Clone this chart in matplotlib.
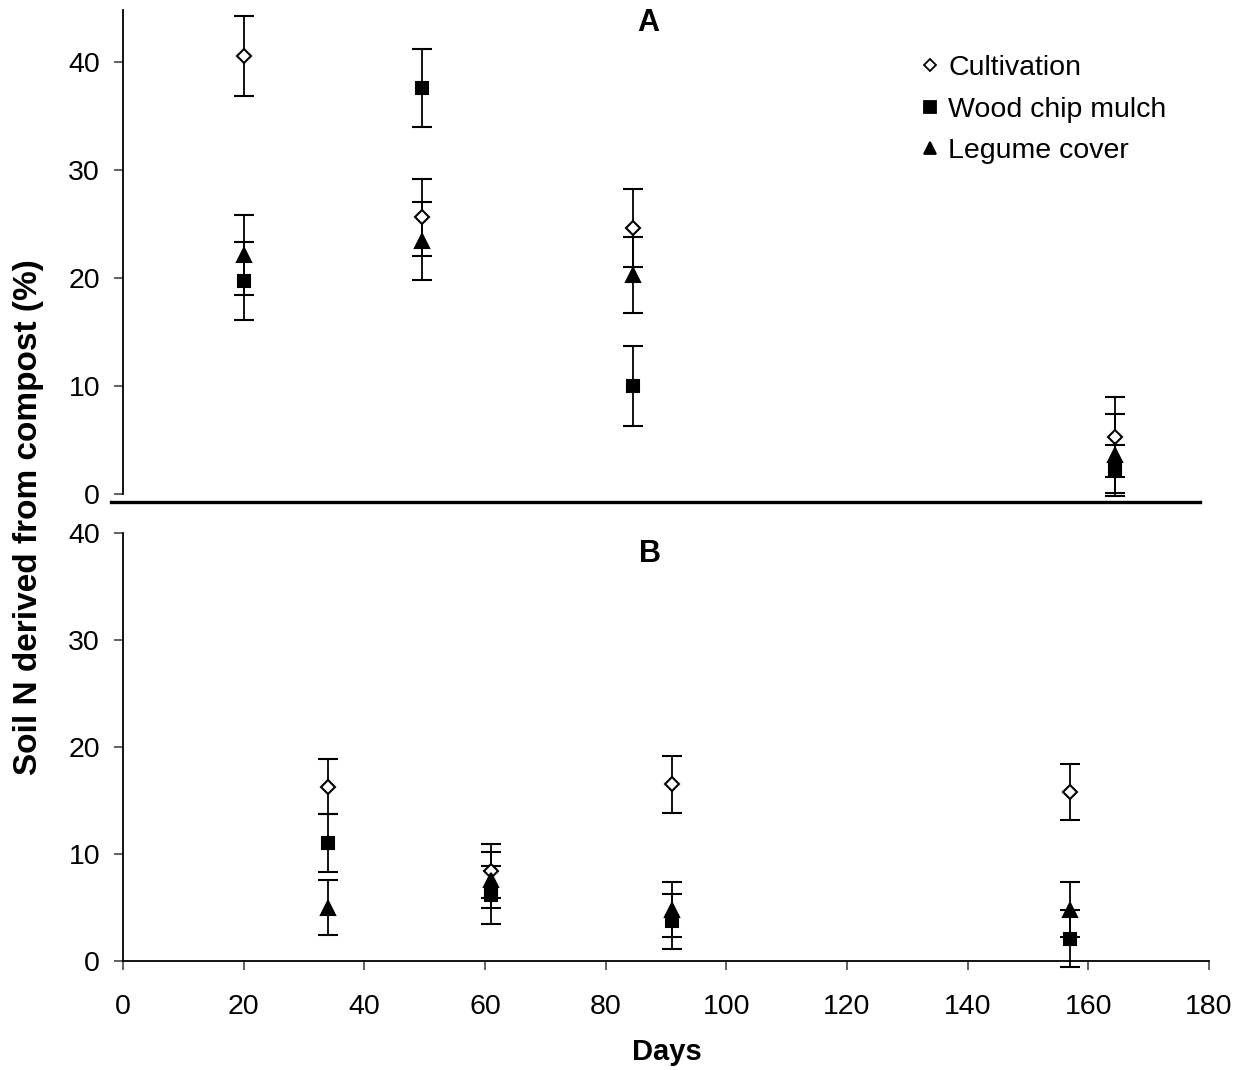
import matplotlib
matplotlib.use("Agg")
import matplotlib.pyplot as plt
from matplotlib.lines import Line2D

plt.rcParams['font.family'] = ['Liberation Sans', 'DejaVu Sans']

series = ["Cultivation", "Wood chip mulch", "Legume cover"]
markers = ["D", "s", "^"]
faces = ["white", "black", "black"]

# Panel A
days_a = [20, 49.5, 84.5, 164.5]
a_cult = [40.5, 25.6, 24.6, 5.3]
a_cult_err = [3.7, 3.6, 3.6, 3.7]
a_wood = [19.7, 37.6, 10.0, 2.3]
a_wood_err = [3.6, 3.6, 3.7, 2.2]
a_leg = [22.1, 23.4, 20.3, 3.6]
a_leg_err = [3.7, 3.6, 3.5, 3.8]

# Panel B
days_b = [34, 61, 91, 157]
b_cult = [16.3, 8.4, 16.5, 15.8]
b_cult_err = [2.6, 2.5, 2.7, 2.6]
b_wood = [11.0, 6.2, 3.7, 2.1]
b_wood_err = [2.7, 2.7, 2.6, 2.7]
b_leg = [5.0, 7.6, 4.8, 4.8]
b_leg_err = [2.6, 2.6, 2.6, 2.6]

W, H = 1244, 1070
fig = plt.figure(figsize=(W / 100, H / 100), dpi=100)

left = 123 / W
width = (1209 - 123) / W
ax_a = fig.add_axes([left, 1 - 494 / H, width, (494 - 10) / H])
ax_b = fig.add_axes([left, 1 - 961 / H, width, (961 - 533) / H])

def draw(ax, days, vals):
    for (y, e), m, fc in zip(vals, markers, faces):
        ms = 9 if m == "s" else (10 if m == "^" else 7.5)
        cont = ax.errorbar(days, y, yerr=e, fmt=m, mfc=fc, mec="black", mew=1.5,
                           ms=ms, ecolor="black", elinewidth=1.3, capsize=7,
                           capthick=1.3, color="black", zorder=3)
        for art in cont.get_children():
            art.set_clip_on(False)

draw(ax_a, days_a, [(a_cult, a_cult_err), (a_wood, a_wood_err), (a_leg, a_leg_err)])
draw(ax_b, days_b, [(b_cult, b_cult_err), (b_wood, b_wood_err), (b_leg, b_leg_err)])

for ax in (ax_a, ax_b):
    ax.set_xlim(0, 180)
    for s in ("top", "right"):
        ax.spines[s].set_visible(False)
    ax.spines["left"].set_linewidth(1.3)
    ax.tick_params(axis="both", direction="out", length=6.5, width=1.3,
                   colors="#555555", labelcolor="black", labelsize=20.5)
    ax.tick_params(axis="y", pad=10)
    ax.tick_params(axis="x", pad=17)

ax_a.set_ylim(0, 44.8)
ax_a.set_yticks([0, 10, 20, 30, 40])
ax_a.spines["bottom"].set_visible(False)
ax_a.set_xticks([])
ax_a.plot([-2, 178.5], [-0.7, -0.7], color="black", lw=2.4, clip_on=False, zorder=2)

ax_b.set_ylim(0, 40)
ax_b.set_yticks([0, 10, 20, 30, 40])
ax_b.set_xticks(range(0, 181, 20))
ax_b.spines["bottom"].set_linewidth(1.3)

fig.text(648 / W, 1 - 23 / H, "A", fontsize=22, fontweight="bold",
         ha="center", va="center")
fig.text(650 / W, 1 - 554 / H, "B", fontsize=22, fontweight="bold",
         ha="center", va="center")

fig.text(667 / W, 1 - 1052 / H, "Days", fontsize=21, fontweight="bold",
         ha="center", va="center")
fig.text(29 / W, 1 - 517 / H, "Soil N derived from compost (%)", rotation=90,
         fontsize=24, fontweight="bold", ha="center", va="center")

handles = [Line2D([], [], ls="none", marker=m, mfc=fc, mec="black", mew=1.3,
                  ms=(6.5 if m == "D" else 8.5), color="black")
           for m, fc in zip(markers, faces)]
leg = ax_a.legend(handles, series, loc="upper left",
                  bbox_to_anchor=(920 / W, 1 - 55 / H), bbox_transform=fig.transFigure,
                  frameon=False, fontsize=20.5, handlelength=0.7, handletextpad=0.3,
                  labelspacing=0.55, borderaxespad=0, borderpad=0)

fig.savefig("out.png", dpi=100)
